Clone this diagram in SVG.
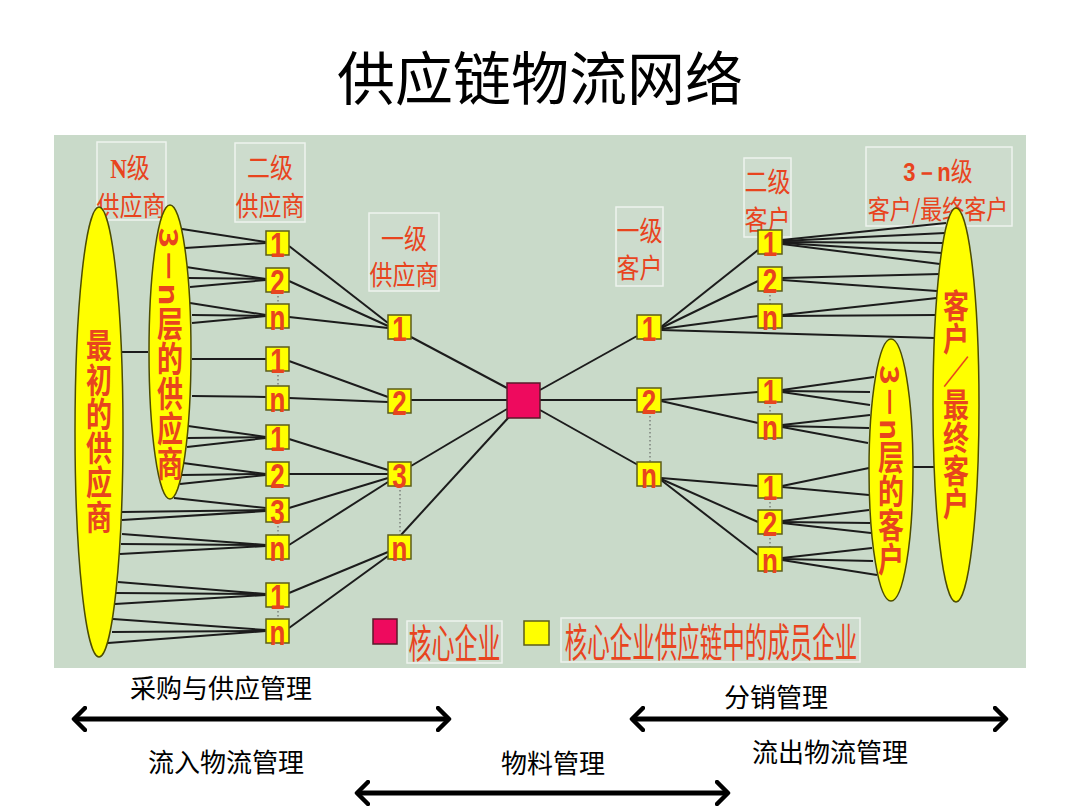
<svg xmlns="http://www.w3.org/2000/svg" width="1080" height="810" viewBox="0 0 1080 810">
<defs>
<style>
.bg{fill:#c9dac9}
.lbl{fill:#cddccd;stroke:#eef3ee;stroke-width:1.5}
.lt{font-family:"Noto Sans CJK SC","Noto Sans",sans-serif;font-size:23px;fill:#e8441e;text-anchor:middle}
.box{fill:#ffff00;stroke:#5c5c1a;stroke-width:1.5}
.core{fill:#ee0a5e;stroke:#5a1a2a;stroke-width:1.5}
.num{font-family:"Liberation Sans",Arial,sans-serif;font-size:26px;font-weight:bold;fill:#e8441e;text-anchor:middle}
.ell{fill:#ffff00;stroke:#4d4d00;stroke-width:1.5}
.vt{font-family:"Noto Sans CJK SC",sans-serif;font-size:26px;font-weight:bold;fill:#e8441e;writing-mode:vertical-rl}
.ln{stroke:#1c1c1c;stroke-width:2;fill:none}
.dot{stroke:#555;stroke-width:1;stroke-dasharray:1.5 2.5;fill:none}
.arr{stroke:#000;stroke-width:5;fill:none;marker-start:url(#chev);marker-end:url(#chev)}
.cap{font-family:"Noto Sans CJK SC",sans-serif;font-size:26px;fill:#000;text-anchor:middle}
.title{font-family:"Noto Sans CJK SC",sans-serif;font-size:58px;fill:#000;text-anchor:middle}
</style>
<marker id="chev" markerUnits="userSpaceOnUse" viewBox="0 0 16 26" markerWidth="16" markerHeight="26" refX="13" refY="13" orient="auto-start-reverse">
<path d="M2,2 L13,13 L2,24" fill="none" stroke="#000" stroke-width="4.5" stroke-linecap="round" stroke-linejoin="round"/>
</marker>
</defs>

<text class="title" x="540" y="100">供应链物流网络</text>

<rect class="bg" x="54" y="135" width="972" height="533"/>

<g id="labels">
<g id="lbl-n"><rect class="lbl" x="97" y="142" width="69" height="78"/>
<text class="lt" transform="translate(130,177.5) scale(1,1.2)"><tspan font-family="Liberation Serif,serif" font-weight="bold">N</tspan>级</text>
<text class="lt" transform="translate(131,215.5) scale(1,1.2)">供应商</text></g>
<g id="lbl-s2"><rect class="lbl" x="235" y="143" width="70" height="79"/>
<text class="lt" transform="translate(270,177.5) scale(1,1.2)">二级</text>
<text class="lt" transform="translate(270,215.5) scale(1,1.2)">供应商</text></g>
<g id="lbl-s1"><rect class="lbl" x="369" y="213" width="70" height="78"/>
<text class="lt" transform="translate(404,248.5) scale(1,1.2)">一级</text>
<text class="lt" transform="translate(404,284.5) scale(1,1.2)">供应商</text></g>
<g id="lbl-c1"><rect class="lbl" x="616" y="207" width="47" height="79"/>
<text class="lt" transform="translate(639.5,240.5) scale(1,1.2)">一级</text>
<text class="lt" transform="translate(639.5,277.5) scale(1,1.2)">客户</text></g>
<g id="lbl-c2"><rect class="lbl" x="744" y="158" width="47" height="79"/>
<text class="lt" transform="translate(767.5,191.5) scale(1,1.2)">二级</text>
<text class="lt" transform="translate(767.5,229.5) scale(1,1.2)">客户</text></g>
<g id="lbl-cn"><rect class="lbl" x="866" y="147" width="146" height="79"/>
<text class="lt" style="font-size:22px" transform="translate(938,180.5) scale(1,1.2)"><tspan font-family="Liberation Sans,sans-serif" font-weight="bold">3－n</tspan>级</text>
<text class="lt" style="font-size:22px" transform="translate(938,218.5) scale(1,1.2)">客户/最终客户</text></g>
</g>

<g id="connectors">
<line class="ln" x1="122" y1="352" x2="148" y2="352"/>
<line class="ln" x1="182" y1="229" x2="266" y2="242"/>
<line class="ln" x1="185" y1="248" x2="266" y2="243"/>
<line class="ln" x1="186" y1="267" x2="266" y2="279"/>
<line class="ln" x1="188" y1="278" x2="266" y2="279"/>
<line class="ln" x1="190" y1="287" x2="266" y2="280"/>
<line class="ln" x1="190" y1="303" x2="266" y2="315"/>
<line class="ln" x1="192" y1="315" x2="266" y2="316"/>
<line class="ln" x1="192" y1="323" x2="266" y2="316"/>
<line class="ln" x1="192" y1="359" x2="266" y2="359"/>
<line class="ln" x1="192" y1="396" x2="266" y2="397"/>
<line class="ln" x1="188" y1="426" x2="266" y2="437"/>
<line class="ln" x1="187" y1="438" x2="266" y2="437"/>
<line class="ln" x1="187" y1="447" x2="266" y2="438"/>
<line class="ln" x1="183" y1="463" x2="266" y2="474"/>
<line class="ln" x1="182" y1="475" x2="266" y2="474"/>
<line class="ln" x1="180" y1="484" x2="266" y2="475"/>
<line class="ln" x1="174" y1="498" x2="266" y2="508"/>
<line class="ln" x1="122" y1="512" x2="266" y2="510"/>
<line class="ln" x1="122" y1="520" x2="266" y2="511"/>
<line class="ln" x1="122" y1="534" x2="266" y2="545"/>
<line class="ln" x1="121" y1="544" x2="266" y2="545"/>
<line class="ln" x1="120" y1="554" x2="266" y2="546"/>
<line class="ln" x1="118" y1="582" x2="266" y2="594"/>
<line class="ln" x1="116" y1="593" x2="266" y2="594"/>
<line class="ln" x1="115" y1="604" x2="266" y2="595"/>
<line class="ln" x1="113" y1="619" x2="266" y2="630"/>
<line class="ln" x1="112" y1="632" x2="266" y2="631"/>
<line class="ln" x1="108" y1="643" x2="266" y2="631"/>

<line class="ln" x1="289" y1="246" x2="388" y2="323"/>
<line class="ln" x1="289" y1="281" x2="388" y2="326"/>
<line class="ln" x1="289" y1="317" x2="388" y2="328"/>
<line class="ln" x1="289" y1="361" x2="388" y2="397"/>
<line class="ln" x1="289" y1="398" x2="388" y2="402"/>
<line class="ln" x1="289" y1="439" x2="388" y2="470"/>
<line class="ln" x1="289" y1="474" x2="388" y2="474"/>
<line class="ln" x1="289" y1="508" x2="388" y2="478"/>
<line class="ln" x1="289" y1="545" x2="388" y2="482"/>
<line class="ln" x1="289" y1="593" x2="388" y2="552"/>
<line class="ln" x1="289" y1="628" x2="388" y2="556"/>

<line class="ln" x1="411" y1="337" x2="507" y2="388"/>
<line class="ln" x1="411" y1="400" x2="507" y2="400"/>
<line class="ln" x1="411" y1="466" x2="507" y2="409"/>
<line class="ln" x1="401" y1="535" x2="509" y2="417"/>

<line class="ln" x1="540" y1="390" x2="637" y2="336"/>
<line class="ln" x1="540" y1="400" x2="637" y2="400"/>
<line class="ln" x1="540" y1="410" x2="638" y2="465"/>

<line class="ln" x1="661" y1="327" x2="758" y2="250"/>
<line class="ln" x1="661" y1="328" x2="758" y2="281"/>
<line class="ln" x1="661" y1="329" x2="758" y2="316"/>
<line class="ln" x1="661" y1="330" x2="935" y2="338"/>

<line class="ln" x1="782" y1="240" x2="946" y2="223"/>
<line class="ln" x1="782" y1="241" x2="945" y2="233"/>
<line class="ln" x1="782" y1="242" x2="943" y2="243"/>
<line class="ln" x1="782" y1="243" x2="942" y2="253"/>
<line class="ln" x1="782" y1="244" x2="940" y2="264"/>
<line class="ln" x1="782" y1="278" x2="940" y2="274"/>
<line class="ln" x1="782" y1="280" x2="937" y2="291"/>
<line class="ln" x1="782" y1="315" x2="937" y2="298"/>
<line class="ln" x1="782" y1="316" x2="935" y2="315"/>

<line class="ln" x1="661" y1="400" x2="758" y2="392"/>
<line class="ln" x1="661" y1="401" x2="758" y2="423"/>
<line class="ln" x1="661" y1="478" x2="758" y2="486"/>
<line class="ln" x1="661" y1="479" x2="758" y2="522"/>
<line class="ln" x1="661" y1="480" x2="758" y2="555"/>

<line class="ln" x1="782" y1="390" x2="874" y2="377"/>
<line class="ln" x1="782" y1="391" x2="870" y2="392"/>
<line class="ln" x1="782" y1="392" x2="870" y2="405"/>
<line class="ln" x1="782" y1="425" x2="870" y2="415"/>
<line class="ln" x1="782" y1="426" x2="869" y2="428"/>
<line class="ln" x1="782" y1="427" x2="868" y2="443"/>
<line class="ln" x1="782" y1="486" x2="869" y2="468"/>
<line class="ln" x1="782" y1="487" x2="869" y2="495"/>
<line class="ln" x1="782" y1="521" x2="869" y2="510"/>
<line class="ln" x1="782" y1="522" x2="870" y2="523"/>
<line class="ln" x1="782" y1="523" x2="871" y2="533"/>
<line class="ln" x1="782" y1="558" x2="872" y2="548"/>
<line class="ln" x1="782" y1="559" x2="873" y2="561"/>
<line class="ln" x1="782" y1="560" x2="877" y2="575"/>
<line class="ln" x1="913" y1="467" x2="934" y2="467"/>

<line class="dot" x1="278" y1="292" x2="278" y2="303"/>
<line class="dot" x1="278" y1="371" x2="278" y2="386"/>
<line class="dot" x1="278" y1="522" x2="278" y2="535"/>
<line class="dot" x1="278" y1="607" x2="278" y2="619"/>
<line class="dot" x1="400" y1="486" x2="400" y2="535"/>
<line class="dot" x1="650" y1="412" x2="650" y2="462"/>
<line class="dot" x1="770" y1="291" x2="770" y2="304"/>
<line class="dot" x1="770" y1="402" x2="770" y2="414"/>
<line class="dot" x1="770" y1="498" x2="770" y2="510"/>
<line class="dot" x1="770" y1="534" x2="770" y2="547"/>
</g>

<g id="ell-initial"><ellipse class="ell" cx="99" cy="432" rx="24" ry="225"/>
<text class="vt" transform="translate(99,328) scale(1,1.32)">最初的供应商</text></g>
<g id="ell-s3n"><ellipse class="ell" cx="170" cy="352" rx="21" ry="147"/>
<text class="vt" transform="translate(170,227.5) scale(1,1.35)">3－n层的供应商</text></g>
<g id="ell-c3n"><ellipse class="ell" cx="891" cy="470" rx="22" ry="131"/>
<text class="vt" transform="translate(891,365) scale(1,1.3)">3－n层的客户</text></g>
<g id="ell-final"><ellipse class="ell" cx="956" cy="405" rx="23" ry="197"/>
<text class="vt" transform="translate(956,288.5) scale(1,1.27)">客户／最终客户</text></g>

<g id="ss1"><rect class="box" x="266" y="231" width="23" height="24"/><text class="num" transform="translate(277.5,257) scale(1,1.35)">1</text></g>
<g id="ss2"><rect class="box" x="266" y="268" width="23" height="24"/><text class="num" transform="translate(277.5,294) scale(1,1.35)">2</text></g>
<g id="ss3"><rect class="box" x="266" y="304" width="23" height="24"/><text class="num" transform="translate(277.5,330) scale(1,1.35)">n</text></g>
<g id="ss4"><rect class="box" x="266" y="347" width="23" height="24"/><text class="num" transform="translate(277.5,373) scale(1,1.35)">1</text></g>
<g id="ss5"><rect class="box" x="266" y="386" width="23" height="24"/><text class="num" transform="translate(277.5,412) scale(1,1.35)">n</text></g>
<g id="ss6"><rect class="box" x="266" y="425" width="23" height="24"/><text class="num" transform="translate(277.5,451) scale(1,1.35)">1</text></g>
<g id="ss7"><rect class="box" x="266" y="462" width="23" height="24"/><text class="num" transform="translate(277.5,488) scale(1,1.35)">2</text></g>
<g id="ss8"><rect class="box" x="266" y="498" width="23" height="24"/><text class="num" transform="translate(277.5,524) scale(1,1.35)">3</text></g>
<g id="ss9"><rect class="box" x="266" y="535" width="23" height="24"/><text class="num" transform="translate(277.5,561) scale(1,1.35)">n</text></g>
<g id="ss10"><rect class="box" x="266" y="583" width="23" height="24"/><text class="num" transform="translate(277.5,609) scale(1,1.35)">1</text></g>
<g id="ss11"><rect class="box" x="266" y="619" width="23" height="24"/><text class="num" transform="translate(277.5,645) scale(1,1.35)">n</text></g>

<g id="fs1"><rect class="box" x="388" y="315" width="23" height="24"/><text class="num" transform="translate(399.5,341) scale(1,1.35)">1</text></g>
<g id="fs2"><rect class="box" x="388" y="389" width="23" height="24"/><text class="num" transform="translate(399.5,415) scale(1,1.35)">2</text></g>
<g id="fs3"><rect class="box" x="388" y="462" width="23" height="24"/><text class="num" transform="translate(399.5,488) scale(1,1.35)">3</text></g>
<g id="fs4"><rect class="box" x="388" y="535" width="23" height="24"/><text class="num" transform="translate(399.5,561) scale(1,1.35)">n</text></g>

<g id="core"><rect class="core" x="507" y="383" width="33" height="35"/></g>

<g id="cc1"><rect class="box" x="637" y="315" width="24" height="24"/><text class="num" transform="translate(649,341) scale(1,1.35)">1</text></g>
<g id="cc2"><rect class="box" x="637" y="388" width="24" height="24"/><text class="num" transform="translate(649,414) scale(1,1.35)">2</text></g>
<g id="cc3"><rect class="box" x="637" y="462" width="24" height="24"/><text class="num" transform="translate(649,488) scale(1,1.35)">n</text></g>

<g id="sc1"><rect class="box" x="758" y="230" width="24" height="24"/><text class="num" transform="translate(770,256) scale(1,1.35)">1</text></g>
<g id="sc2"><rect class="box" x="758" y="267" width="24" height="24"/><text class="num" transform="translate(770,293) scale(1,1.35)">2</text></g>
<g id="sc3"><rect class="box" x="758" y="304" width="24" height="24"/><text class="num" transform="translate(770,330) scale(1,1.35)">n</text></g>
<g id="sc4"><rect class="box" x="758" y="378" width="24" height="24"/><text class="num" transform="translate(770,404) scale(1,1.35)">1</text></g>
<g id="sc5"><rect class="box" x="758" y="414" width="24" height="24"/><text class="num" transform="translate(770,440) scale(1,1.35)">n</text></g>
<g id="sc6"><rect class="box" x="758" y="474" width="24" height="24"/><text class="num" transform="translate(770,500) scale(1,1.35)">1</text></g>
<g id="sc7"><rect class="box" x="758" y="510" width="24" height="24"/><text class="num" transform="translate(770,536) scale(1,1.35)">2</text></g>
<g id="sc8"><rect class="box" x="758" y="547" width="24" height="24"/><text class="num" transform="translate(770,573) scale(1,1.35)">n</text></g>

<g id="legend">
<rect class="core" x="373" y="619" width="24" height="25"/>
<rect class="lbl" x="407" y="621" width="95" height="42"/>
<text class="lt" transform="translate(454.5,658) scale(1,1.75)">核心企业</text>
<rect class="box" x="524" y="621" width="25" height="24"/>
<rect class="lbl" x="561" y="618" width="299" height="44"/>
<text class="lt" style="font-size:22.5px" transform="translate(711,657) scale(1,1.75)">核心企业供应链中的成员企业</text>
</g>

<g id="scopes">
<line class="arr" x1="74" y1="719" x2="449" y2="719"/>
<line class="arr" x1="632" y1="719" x2="1006" y2="719"/>
<line class="arr" x1="357" y1="793" x2="728" y2="793"/>
<text class="cap" x="221" y="698">采购与供应管理</text>
<text class="cap" x="776" y="707">分销管理</text>
<text class="cap" x="226" y="772">流入物流管理</text>
<text class="cap" x="553" y="773">物料管理</text>
<text class="cap" x="830" y="762">流出物流管理</text>
</g>
</svg>
